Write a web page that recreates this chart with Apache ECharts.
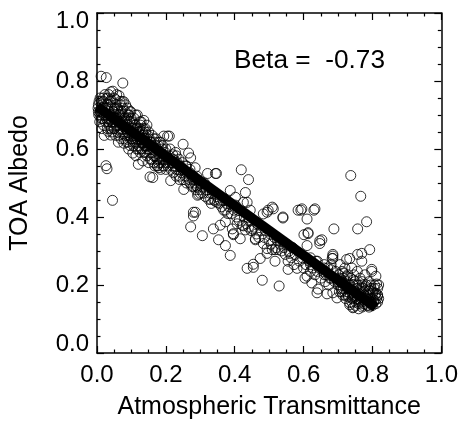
<!DOCTYPE html>
<html>
<head>
<meta charset="utf-8">
<script src="https://cdn.jsdelivr.net/npm/echarts@6/dist/echarts.min.js"></script>
<style>html,body{margin:0;padding:0;background:#fff}#c{width:461px;height:425px}</style>
</head>
<body>
<div id="c"></div>
<script>
var xTicks = [0.0, 0.2, 0.4, 0.6, 0.8, 1.0];
var yTicks = [0.0, 0.2, 0.4, 0.6, 0.8, 1.0];
var fitX = [0.0, 0.81];
var fitY = [0.725, 0.134];
var betaText = 'Beta =  -0.73';
var xTitle = 'Atmospheric Transmittance';
var yTitle = 'TOA Albedo';

var pts0 = [[0.003,0.72],[0.005,0.70],[0.006,0.74],[0.008,0.68],[0.010,0.71],[0.012,0.739],[0.012,0.814],[0.014,0.66],[0.015,0.73],[0.017,0.69],[0.018,0.75],[0.020,0.70],[0.021,0.64],[0.022,0.72],[0.024,0.68],[0.026,0.748],[0.026,0.551],[0.027,0.81],[0.028,0.70],[0.029,0.542],[0.030,0.66],[0.031,0.73],[0.032,0.652],[0.033,0.69],[0.034,0.76],[0.035,0.71],[0.036,0.67],[0.038,0.74],[0.040,0.768],[0.040,0.641],[0.041,0.70],[0.042,0.68],[0.043,0.72],[0.044,0.65],[0.045,0.449],[0.046,0.77],[0.047,0.69],[0.048,0.71],[0.049,0.66],[0.050,0.75]];
var pts1 = [[0.052,0.68],[0.053,0.70],[0.054,0.64],[0.055,0.73],[0.056,0.67],[0.057,0.76],[0.058,0.69],[0.060,0.65],[0.061,0.71],[0.062,0.62],[0.064,0.757],[0.065,0.68],[0.066,0.70],[0.067,0.66],[0.068,0.73],[0.070,0.63],[0.071,0.69],[0.072,0.67],[0.073,0.74],[0.075,0.794],[0.076,0.65],[0.077,0.70],[0.078,0.739],[0.078,0.617],[0.080,0.68],[0.081,0.64],[0.082,0.71],[0.084,0.66],[0.085,0.69],[0.086,0.62],[0.088,0.72],[0.089,0.65],[0.090,0.67],[0.092,0.60],[0.093,0.70],[0.094,0.64],[0.095,0.68],[0.096,0.61],[0.098,0.71],[0.099,0.66]];
var pts2 = [[0.101,0.63],[0.103,0.68],[0.104,0.588],[0.105,0.65],[0.106,0.61],[0.108,0.69],[0.109,0.64],[0.110,0.62],[0.112,0.67],[0.113,0.58],[0.114,0.66],[0.115,0.60],[0.117,0.70],[0.118,0.63],[0.120,0.555],[0.121,0.65],[0.122,0.61],[0.124,0.68],[0.125,0.59],[0.127,0.67],[0.128,0.62],[0.130,0.64],[0.131,0.60],[0.133,0.565],[0.134,0.66],[0.136,0.684],[0.137,0.61],[0.138,0.63],[0.140,0.59],[0.141,0.65],[0.143,0.62],[0.145,0.67],[0.146,0.60],[0.148,0.64],[0.150,0.56],[0.150,0.61]];
var pts3 = [[0.152,0.63],[0.154,0.518],[0.155,0.59],[0.157,0.62],[0.158,0.57],[0.160,0.64],[0.162,0.516],[0.163,0.60],[0.165,0.58],[0.167,0.62],[0.168,0.55],[0.170,0.60],[0.172,0.63],[0.174,0.57],[0.176,0.551],[0.178,0.61],[0.179,0.559],[0.180,0.545],[0.182,0.59],[0.184,0.62],[0.186,0.56],[0.188,0.58],[0.190,0.60],[0.192,0.55],[0.194,0.638],[0.196,0.57],[0.198,0.59],[0.200,0.56]];
var pts4 = [[0.202,0.58],[0.205,0.638],[0.206,0.55],[0.208,0.57],[0.210,0.638],[0.212,0.60],[0.214,0.507],[0.215,0.54],[0.218,0.56],[0.220,0.583],[0.222,0.53],[0.223,0.568],[0.226,0.55],[0.228,0.59],[0.230,0.52],[0.233,0.56],[0.235,0.54],[0.238,0.57],[0.240,0.51],[0.243,0.55],[0.245,0.53],[0.248,0.56],[0.250,0.614],[0.252,0.481]];
var pts5 = [[0.255,0.52],[0.258,0.55],[0.260,0.50],[0.262,0.53],[0.266,0.588],[0.268,0.51],[0.270,0.54],[0.272,0.574],[0.272,0.371],[0.275,0.49],[0.278,0.52],[0.280,0.414],[0.280,0.403],[0.283,0.50],[0.285,0.545],[0.286,0.414],[0.288,0.48],[0.290,0.51],[0.292,0.487],[0.292,0.464],[0.295,0.467],[0.297,0.50],[0.300,0.47]];
var pts6 = [[0.303,0.49],[0.306,0.345],[0.308,0.47],[0.312,0.50],[0.315,0.46],[0.318,0.48],[0.321,0.528],[0.324,0.452],[0.328,0.47],[0.330,0.452],[0.332,0.44],[0.335,0.47],[0.338,0.365],[0.340,0.45],[0.344,0.528],[0.344,0.446],[0.347,0.528],[0.348,0.46],[0.350,0.443],[0.353,0.333],[0.355,0.44],[0.358,0.376],[0.358,0.449],[0.362,0.43],[0.365,0.45],[0.368,0.42],[0.373,0.42],[0.373,0.386],[0.373,0.316],[0.376,0.44],[0.380,0.41],[0.383,0.43],[0.387,0.478],[0.387,0.287],[0.390,0.41],[0.393,0.365],[0.396,0.351],[0.396,0.348],[0.398,0.42],[0.402,0.458],[0.402,0.435]];
var pts7 = [[0.405,0.40],[0.407,0.38],[0.410,0.42],[0.413,0.39],[0.416,0.336],[0.419,0.539],[0.422,0.376],[0.425,0.443],[0.425,0.374],[0.428,0.40],[0.431,0.472],[0.431,0.362],[0.434,0.38],[0.436,0.443],[0.436,0.249],[0.440,0.51],[0.440,0.37],[0.443,0.39],[0.445,0.42],[0.448,0.36],[0.451,0.365],[0.454,0.252],[0.454,0.261],[0.457,0.37],[0.460,0.336],[0.460,0.333],[0.463,0.35],[0.466,0.38],[0.470,0.34],[0.474,0.278],[0.477,0.36],[0.480,0.214],[0.483,0.409],[0.483,0.322],[0.486,0.34],[0.490,0.36],[0.494,0.414],[0.494,0.307],[0.494,0.293],[0.497,0.42],[0.500,0.33]];
var pts8 = [[0.503,0.35],[0.506,0.32],[0.509,0.429],[0.509,0.304],[0.512,0.424],[0.515,0.34],[0.517,0.27],[0.517,0.304],[0.520,0.31],[0.524,0.33],[0.526,0.304],[0.529,0.197],[0.532,0.32],[0.536,0.30],[0.540,0.397],[0.540,0.40],[0.543,0.31],[0.547,0.29],[0.551,0.32],[0.555,0.27],[0.555,0.246],[0.558,0.30],[0.560,0.293],[0.564,0.28],[0.568,0.31],[0.572,0.26],[0.576,0.29],[0.581,0.249],[0.584,0.42],[0.588,0.27],[0.592,0.42],[0.595,0.424],[0.597,0.28],[0.600,0.25]];
var pts9 = [[0.601,0.348],[0.604,0.22],[0.607,0.26],[0.610,0.394],[0.610,0.316],[0.610,0.226],[0.613,0.354],[0.613,0.351],[0.616,0.27],[0.620,0.24],[0.624,0.206],[0.627,0.25],[0.630,0.42],[0.633,0.424],[0.633,0.23],[0.636,0.27],[0.639,0.177],[0.642,0.188],[0.645,0.25],[0.647,0.33],[0.647,0.322],[0.650,0.22],[0.653,0.333],[0.656,0.24],[0.660,0.26],[0.663,0.21],[0.666,0.23],[0.668,0.174],[0.670,0.25],[0.673,0.20],[0.676,0.22],[0.680,0.26],[0.683,0.278],[0.685,0.278],[0.685,0.29],[0.685,0.285],[0.685,0.177],[0.688,0.365],[0.690,0.21],[0.693,0.24],[0.697,0.162],[0.700,0.20]];
var pts10 = [[0.702,0.23],[0.704,0.18],[0.706,0.26],[0.708,0.21],[0.710,0.19],[0.712,0.24],[0.714,0.17],[0.716,0.22],[0.718,0.20],[0.720,0.25],[0.722,0.16],[0.724,0.21],[0.725,0.275],[0.726,0.19],[0.728,0.23],[0.730,0.17],[0.732,0.20],[0.734,0.278],[0.734,0.142],[0.734,0.148],[0.736,0.22],[0.737,0.522],[0.738,0.18],[0.740,0.25],[0.742,0.16],[0.743,0.133],[0.744,0.20],[0.746,0.23],[0.748,0.17],[0.750,0.21],[0.752,0.15],[0.754,0.19],[0.756,0.24],[0.757,0.365],[0.757,0.29],[0.758,0.17],[0.760,0.20],[0.762,0.15],[0.764,0.22],[0.766,0.461],[0.766,0.18],[0.768,0.16],[0.769,0.293],[0.769,0.27],[0.770,0.21],[0.772,0.14],[0.774,0.19],[0.776,0.17],[0.778,0.23],[0.780,0.15],[0.782,0.20],[0.783,0.386],[0.784,0.16],[0.786,0.18],[0.788,0.14],[0.790,0.21],[0.792,0.304],[0.792,0.17],[0.794,0.15],[0.796,0.19],[0.798,0.246],[0.798,0.24],[0.800,0.16],[0.802,0.18],[0.804,0.15],[0.806,0.20],[0.808,0.17],[0.810,0.226],[0.812,0.203],[0.812,0.16],[0.815,0.168],[0.815,0.171]];
var denseLeft = [[0.004,0.71],[0.004,0.73],[0.009,0.70],[0.009,0.75],[0.013,0.72],[0.013,0.69],[0.019,0.74],[0.019,0.67],[0.023,0.70],[0.023,0.76],[0.027,0.69],[0.027,0.72],[0.032,0.75],[0.032,0.68],[0.037,0.70],[0.037,0.73],[0.041,0.66],[0.041,0.745],[0.046,0.71],[0.046,0.68],[0.051,0.72],[0.051,0.66],[0.055,0.69],[0.055,0.745],[0.059,0.67],[0.059,0.72],[0.063,0.70],[0.063,0.64],[0.067,0.68],[0.067,0.74],[0.071,0.71],[0.071,0.65],[0.075,0.67],[0.075,0.72],[0.079,0.69],[0.079,0.63],[0.083,0.66],[0.083,0.73],[0.087,0.68],[0.087,0.64],[0.091,0.70],[0.091,0.62],[0.095,0.655],[0.095,0.71],[0.099,0.63],[0.099,0.69],[0.104,0.66],[0.104,0.62],[0.108,0.67],[0.108,0.63],[0.112,0.64],[0.112,0.70],[0.116,0.62],[0.116,0.66],[0.120,0.65],[0.120,0.60],[0.124,0.63],[0.124,0.66],[0.128,0.60],[0.128,0.68],[0.132,0.62],[0.132,0.65],[0.136,0.64],[0.136,0.59],[0.140,0.61],[0.140,0.66],[0.145,0.63],[0.145,0.58],[0.150,0.60],[0.150,0.65],[0.155,0.62],[0.155,0.57],[0.160,0.59],[0.160,0.61],[0.165,0.63],[0.165,0.56],[0.170,0.58],[0.170,0.61],[0.175,0.60],[0.175,0.55],[0.180,0.57],[0.180,0.62],[0.185,0.59],[0.185,0.54],[0.190,0.57],[0.190,0.61],[0.195,0.58],[0.195,0.55],[0.200,0.60],[0.200,0.54],[0.210,0.56],[0.210,0.58],[0.220,0.55],[0.220,0.57],[0.230,0.54],[0.230,0.58],[0.240,0.55],[0.240,0.52],[0.250,0.54],[0.250,0.51],[0.260,0.52],[0.260,0.55],[0.270,0.50],[0.270,0.53],[0.280,0.51],[0.280,0.49],[0.290,0.49],[0.290,0.52],[0.300,0.50],[0.300,0.48]];
var denseRight = [[0.620,0.26],[0.620,0.28],[0.640,0.24],[0.640,0.27],[0.660,0.23],[0.660,0.25],[0.680,0.22],[0.680,0.245],[0.700,0.21],[0.705,0.20],[0.705,0.22],[0.710,0.18],[0.710,0.215],[0.715,0.19],[0.715,0.235],[0.720,0.17],[0.720,0.205],[0.725,0.18],[0.725,0.225],[0.730,0.165],[0.730,0.19],[0.735,0.20],[0.735,0.175],[0.740,0.15],[0.740,0.185],[0.745,0.165],[0.745,0.215],[0.745,0.135],[0.750,0.14],[0.750,0.18],[0.755,0.16],[0.755,0.20],[0.760,0.145],[0.760,0.175],[0.760,0.13],[0.765,0.155],[0.765,0.19],[0.770,0.165],[0.770,0.20],[0.770,0.135],[0.775,0.145],[0.775,0.18],[0.780,0.16],[0.780,0.195],[0.785,0.14],[0.785,0.17],[0.790,0.15],[0.790,0.185],[0.790,0.135],[0.795,0.16],[0.795,0.20],[0.800,0.14],[0.800,0.175],[0.805,0.155],[0.805,0.19],[0.810,0.145],[0.810,0.175],[0.815,0.15],[0.815,0.19],[0.818,0.16],[0.818,0.20]];

var points = [].concat(pts0, pts1, pts2, pts3, pts4, pts5, pts6, pts7, pts8, pts9, pts10, denseLeft, denseRight);

var FONT = '"Liberation Sans", Arial, Helvetica, sans-serif';
var chart = echarts.init(document.getElementById('c'), null, {renderer: 'canvas'});

function baseAxis(pos, showLabel, ticks) {
  return {
    type: 'value', position: pos, min: ticks[0], max: ticks[ticks.length - 1], interval: 0.2,
    axisLine: {show: true, onZero: false, lineStyle: {color: '#000', width: 1.5}},
    axisTick: {show: true, inside: true, length: 7, lineStyle: {color: '#000', width: 1.2}},
    minorTick: {show: true, splitNumber: 4, length: 3.5, lineStyle: {color: '#000', width: 1.2}},
    splitLine: {show: false},
    minorSplitLine: {show: false},
    axisLabel: {show: showLabel, color: '#000', fontFamily: FONT, fontSize: 24,
      formatter: function (v) { return v.toFixed(1); }}
  };
}

var xb = baseAxis('bottom', true, xTicks);
xb.axisLabel.margin = 10;
xb.name = xTitle; xb.nameLocation = 'middle'; xb.nameGap = 42;
xb.nameTextStyle = {color: '#000', fontFamily: FONT, fontSize: 25};
var xt = baseAxis('top', false, xTicks);
var yl = baseAxis('left', true, yTicks);
yl.axisLabel.margin = 8;
yl.axisLabel.lineHeight = 17;
yl.axisLabel.verticalAlignMinLabel = 'bottom';
yl.axisLabel.verticalAlignMaxLabel = 'top';
yl.name = yTitle; yl.nameLocation = 'middle'; yl.nameGap = 64;
yl.nameTextStyle = {color: '#000', fontFamily: FONT, fontSize: 25};
var yr = baseAxis('right', false, yTicks);

chart.setOption({
  animation: false,
  backgroundColor: '#fff',
  grid: {left: 96, top: 13, right: 19, bottom: 67, containLabel: false},
  xAxis: [xb, xt],
  yAxis: [yl, yr],
  graphic: [{type: 'text', x: 234, y: 49, scaleX: 1.05,
    style: {text: betaText, fill: '#000', font: '25px ' + FONT}}],
  series: [
    {type: 'scatter', xAxisIndex: 0, yAxisIndex: 0, data: points, symbol: 'circle', symbolSize: 10,
      itemStyle: {color: 'rgba(0,0,0,0)', borderColor: '#000', borderWidth: 1}, z: 2},
    {type: 'line', xAxisIndex: 0, yAxisIndex: 0, data: fitX.map(function (x, i) { return [x, fitY[i]]; }),
      symbol: 'none', lineStyle: {color: '#000', width: 10}, z: 3}
  ]
});
</script>
</body>
</html>
